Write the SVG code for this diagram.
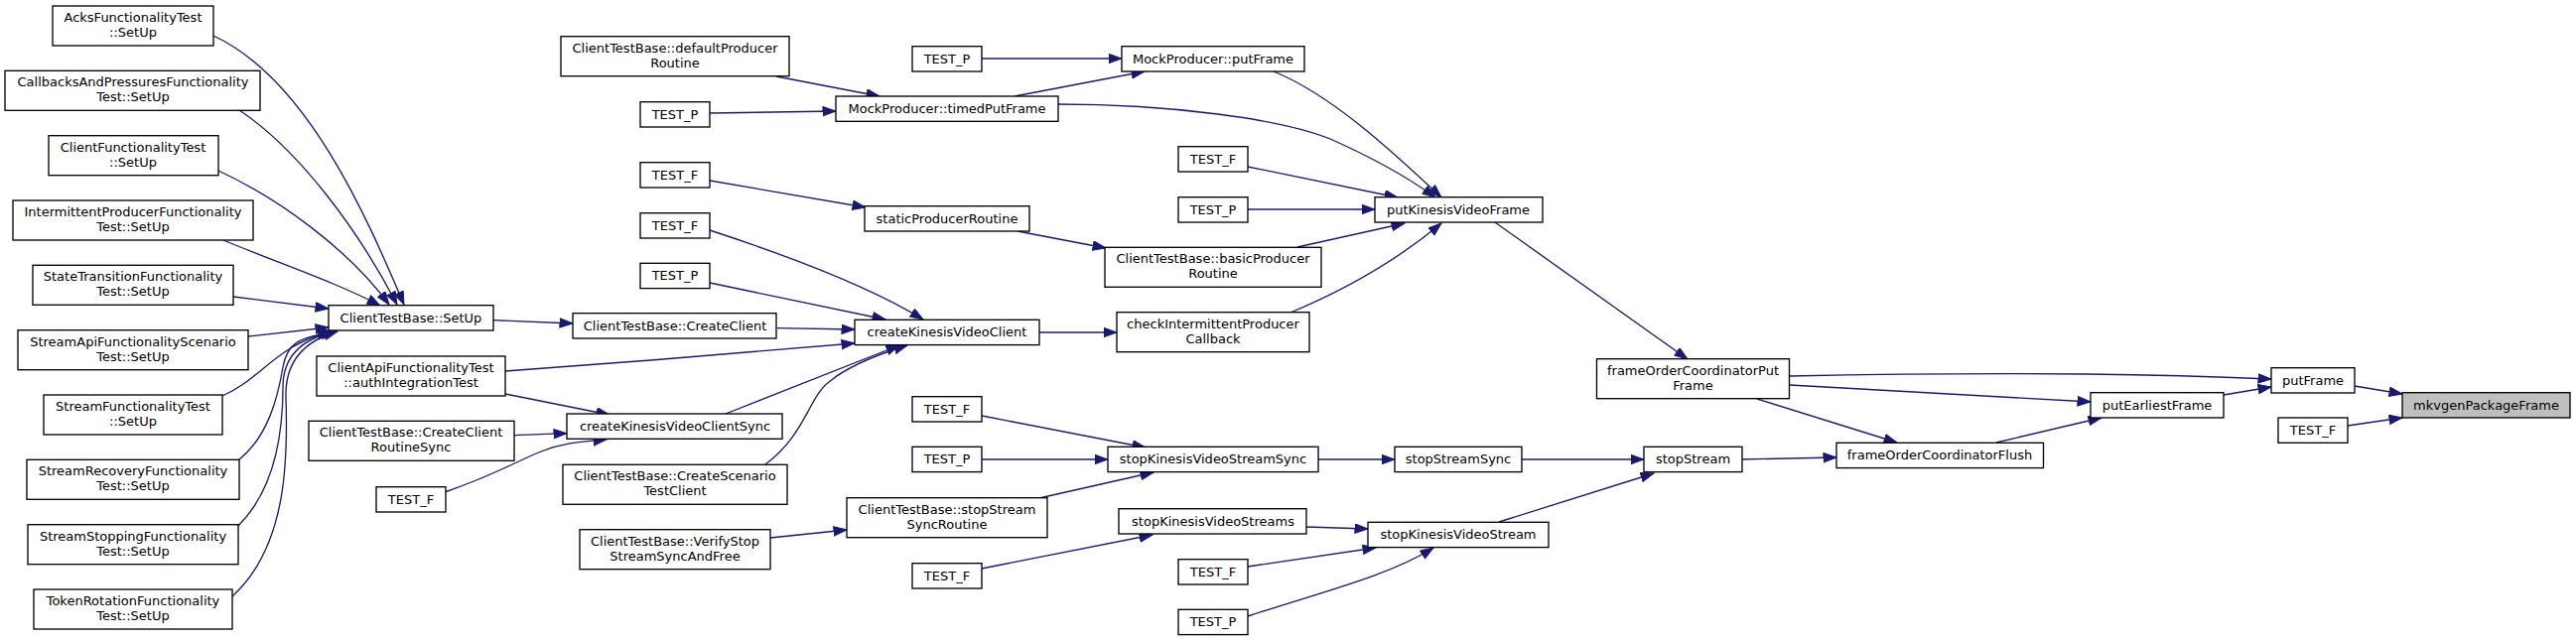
<svg xmlns="http://www.w3.org/2000/svg" width="2595" height="646" viewBox="0 0 2595 646">
<style>
.node rect{fill:#ffffff;stroke:#000000;stroke-width:1.33}
.node.hl rect{fill:#bfbfbf}
.node text{font-family:"DejaVu Sans",sans-serif;font-size:13px;text-anchor:middle;fill:#000000}
.edges path{fill:none;stroke:#191970;stroke-width:1.33;marker-end:url(#ah)}
</style>
<defs>
<marker id="ah" markerUnits="userSpaceOnUse" markerWidth="15" markerHeight="11" viewBox="0 0 15 11" refX="13.5" refY="5" orient="auto">
<path d="M0.5,0.3 L13.5,5 L0.5,9.7 Z" fill="#191970" stroke="#191970" stroke-width="1"/>
</marker>
</defs>
<rect width="2595" height="646" fill="#ffffff"/>
<g class="edges">
<path d="M215,36 C310,80 370,220 407,307"/>
<path d="M241,111 C300,150 360,230 400,307"/>
<path d="M220,172 C280,200 350,250 392,307"/>
<path d="M225,242 C280,265 340,285 383,308"/>
<path d="M235,299 L331,311"/>
<path d="M250,339 L331,330"/>
<path d="M224,399 C262,383 278,348 333,334"/>
<path d="M241,463 C270,440 280,400 285,370 S310,340 336,334"/>
<path d="M240,530 C280,490 285,430 285,390 C285,355 310,340 338,334"/>
<path d="M234,601 C290,550 290,460 288,400 C287,360 312,342 340,334"/>
<path d="M497,322.7 L577,326"/>
<path d="M783,330.7 L861,332"/>
<path d="M509,374 C620,366 760,355 861,346"/>
<path d="M509,397 L614,418"/>
<path d="M518,438.7 L571,436.7"/>
<path d="M448,496 C500,478 520,465 545,455 S590,445 611,443"/>
<path d="M731,417 L906,348"/>
<path d="M771,468 C810,440 815,400 835,385 C855,368 885,357 914,348"/>
<path d="M715,232 C770,250 870,285 930,322"/>
<path d="M715,285 L892,322"/>
<path d="M715,182 L872,209"/>
<path d="M782,77 L886,97"/>
<path d="M715,114 L842,112"/>
<path d="M989,59 L1130,59"/>
<path d="M1022,97 L1153,72"/>
<path d="M1065,105 C1180,105 1290,120 1340,140 C1385,160 1420,180 1446,199"/>
<path d="M1283,72 C1340,95 1400,150 1452,199"/>
<path d="M1257,168 L1408,199"/>
<path d="M1257,211 L1385,211"/>
<path d="M1025,233 L1114,250"/>
<path d="M1307,249 L1415,225"/>
<path d="M1300,315 C1360,290 1410,260 1452,225"/>
<path d="M1047,335 L1125,335"/>
<path d="M1506,224 L1700,362"/>
<path d="M989,419 L1154,451"/>
<path d="M989,463 L1116,463"/>
<path d="M1047,502 L1162,476"/>
<path d="M776,542 L853,534"/>
<path d="M1328,463 L1405,463"/>
<path d="M1533,463 L1656,463"/>
<path d="M989,573 L1161,539"/>
<path d="M1316,531 L1378,533"/>
<path d="M1257,571 L1386,552"/>
<path d="M1257,621 C1330,597 1400,580 1444,552"/>
<path d="M1510,526 L1666,477"/>
<path d="M1754,463 L1850,461"/>
<path d="M1803,379 C1900,377 2000,376 2100,377 C2180,378 2240,380 2288,382"/>
<path d="M1803,388 L2106,405"/>
<path d="M1770,402 L1911,446"/>
<path d="M2011,446 L2117,421"/>
<path d="M2240,398 L2288,390"/>
<path d="M2372,389 L2420,397"/>
<path d="M2365,429 L2420,421"/>
</g>
<g id="n_acks" class="node"><rect x="53" y="6" width="162" height="40"/><text x="134" y="22">AcksFunctionalityTest</text><text x="134" y="37">::SetUp</text></g>
<g id="n_callbacks" class="node"><rect x="5" y="71.3" width="257" height="40"/><text x="134" y="87.3">CallbacksAndPressuresFunctionality</text><text x="134" y="102.3">Test::SetUp</text></g>
<g id="n_clientfunc" class="node"><rect x="49" y="136.7" width="171" height="40"/><text x="134" y="152.7">ClientFunctionalityTest</text><text x="134" y="167.7">::SetUp</text></g>
<g id="n_intermittent" class="node"><rect x="13" y="202" width="242" height="40"/><text x="134" y="218">IntermittentProducerFunctionality</text><text x="134" y="233">Test::SetUp</text></g>
<g id="n_statetrans" class="node"><rect x="33" y="267.3" width="202" height="40"/><text x="134" y="283.3">StateTransitionFunctionality</text><text x="134" y="298.3">Test::SetUp</text></g>
<g id="n_streamapi" class="node"><rect x="18" y="332.7" width="232" height="40"/><text x="134" y="348.7">StreamApiFunctionalityScenario</text><text x="134" y="363.7">Test::SetUp</text></g>
<g id="n_streamfunc" class="node"><rect x="44" y="398" width="180" height="40"/><text x="134" y="414">StreamFunctionalityTest</text><text x="134" y="429">::SetUp</text></g>
<g id="n_streamrecov" class="node"><rect x="27" y="463.3" width="214" height="40"/><text x="134" y="479.3">StreamRecoveryFunctionality</text><text x="134" y="494.3">Test::SetUp</text></g>
<g id="n_streamstop" class="node"><rect x="28" y="528.7" width="212" height="40"/><text x="134" y="544.7">StreamStoppingFunctionality</text><text x="134" y="559.7">Test::SetUp</text></g>
<g id="n_tokenrot" class="node"><rect x="34" y="594" width="200" height="40"/><text x="134" y="610">TokenRotationFunctionality</text><text x="134" y="625">Test::SetUp</text></g>
<g id="n_setup" class="node"><rect x="331" y="307.7" width="166" height="25.3"/><text x="414" y="324.5">ClientTestBase::SetUp</text></g>
<g id="n_authtest" class="node"><rect x="319" y="359" width="190" height="40"/><text x="414" y="375">ClientApiFunctionalityTest</text><text x="414" y="390">::authIntegrationTest</text></g>
<g id="n_ccrs" class="node"><rect x="311" y="424.3" width="207" height="40"/><text x="414" y="440.3">ClientTestBase::CreateClient</text><text x="414" y="455.3">RoutineSync</text></g>
<g id="n_testf_a" class="node"><rect x="379" y="490.7" width="70" height="25.3"/><text x="414" y="507.5">TEST_F</text></g>
<g id="n_defaultprod" class="node"><rect x="565" y="36.7" width="230" height="40"/><text x="680" y="52.7">ClientTestBase::defaultProducer</text><text x="680" y="67.7">Routine</text></g>
<g id="n_testp_a" class="node"><rect x="645" y="102.7" width="70" height="25.3"/><text x="680" y="119.5">TEST_P</text></g>
<g id="n_testf_b" class="node"><rect x="645" y="163.7" width="70" height="25.3"/><text x="680" y="180.5">TEST_F</text></g>
<g id="n_testf_c" class="node"><rect x="645" y="214.7" width="70" height="25.3"/><text x="680" y="231.5">TEST_F</text></g>
<g id="n_testp_b" class="node"><rect x="645" y="265.3" width="70" height="25.3"/><text x="680" y="282">TEST_P</text></g>
<g id="n_createclient" class="node"><rect x="577" y="315.7" width="205" height="25.3"/><text x="680" y="332.5">ClientTestBase::CreateClient</text></g>
<g id="n_ckvcsync" class="node"><rect x="571" y="417" width="217" height="25.3"/><text x="680" y="433.8">createKinesisVideoClientSync</text></g>
<g id="n_createscenario" class="node"><rect x="567" y="468.3" width="226" height="40"/><text x="680" y="484.3">ClientTestBase::CreateScenario</text><text x="680" y="499.3">TestClient</text></g>
<g id="n_verifystop" class="node"><rect x="584" y="533.7" width="192" height="40"/><text x="680" y="549.7">ClientTestBase::VerifyStop</text><text x="680" y="564.7">StreamSyncAndFree</text></g>
<g id="n_ckvc" class="node"><rect x="861" y="322.3" width="186" height="25.3"/><text x="954" y="339">createKinesisVideoClient</text></g>
<g id="n_timedput" class="node"><rect x="842" y="97" width="224" height="25.3"/><text x="954" y="113.8">MockProducer::timedPutFrame</text></g>
<g id="n_testp_c" class="node"><rect x="919" y="46.7" width="70" height="25.3"/><text x="954" y="63.5">TEST_P</text></g>
<g id="n_staticprod" class="node"><rect x="871" y="207.7" width="166" height="25.3"/><text x="954" y="224.5">staticProducerRoutine</text></g>
<g id="n_stopsyncroutine" class="node"><rect x="853" y="501.7" width="202" height="40"/><text x="954" y="517.7">ClientTestBase::stopStream</text><text x="954" y="532.7">SyncRoutine</text></g>
<g id="n_testf_d" class="node"><rect x="919" y="399.7" width="70" height="25.3"/><text x="954" y="416.5">TEST_F</text></g>
<g id="n_testp_d" class="node"><rect x="919" y="450.3" width="70" height="25.3"/><text x="954" y="467">TEST_P</text></g>
<g id="n_testf_e" class="node"><rect x="919" y="567.7" width="70" height="25.3"/><text x="954" y="584.5">TEST_F</text></g>
<g id="n_mockput" class="node"><rect x="1130" y="46.7" width="184" height="25.3"/><text x="1222" y="63.5">MockProducer::putFrame</text></g>
<g id="n_testf_f" class="node"><rect x="1187" y="147.7" width="70" height="25.3"/><text x="1222" y="164.5">TEST_F</text></g>
<g id="n_testp_e" class="node"><rect x="1187" y="198.7" width="70" height="25.3"/><text x="1222" y="215.5">TEST_P</text></g>
<g id="n_basicprod" class="node"><rect x="1113" y="249.3" width="218" height="40"/><text x="1222" y="265.3">ClientTestBase::basicProducer</text><text x="1222" y="280.3">Routine</text></g>
<g id="n_checkinter" class="node"><rect x="1125" y="314.7" width="194" height="40"/><text x="1222" y="330.7">checkIntermittentProducer</text><text x="1222" y="345.7">Callback</text></g>
<g id="n_stopkvssync" class="node"><rect x="1116" y="450.3" width="212" height="25.3"/><text x="1222" y="467">stopKinesisVideoStreamSync</text></g>
<g id="n_stopkvss" class="node"><rect x="1127" y="512.7" width="189" height="25.3"/><text x="1222" y="529.5">stopKinesisVideoStreams</text></g>
<g id="n_testf_g" class="node"><rect x="1187" y="563.7" width="70" height="25.3"/><text x="1222" y="580.5">TEST_F</text></g>
<g id="n_testp_f" class="node"><rect x="1187" y="614.3" width="70" height="25.3"/><text x="1222" y="631">TEST_P</text></g>
<g id="n_putkvf" class="node"><rect x="1385" y="198.7" width="169" height="25.3"/><text x="1469" y="215.5">putKinesisVideoFrame</text></g>
<g id="n_stopstreamsync" class="node"><rect x="1405" y="450.3" width="128" height="25.3"/><text x="1469" y="467">stopStreamSync</text></g>
<g id="n_stopkvs" class="node"><rect x="1378" y="526.3" width="182" height="25.3"/><text x="1469" y="543">stopKinesisVideoStream</text></g>
<g id="n_fopf" class="node"><rect x="1608.5" y="361.7" width="194" height="40"/><text x="1705.5" y="377.7">frameOrderCoordinatorPut</text><text x="1705.5" y="392.7">Frame</text></g>
<g id="n_stopstream" class="node"><rect x="1656" y="450.3" width="99" height="25.3"/><text x="1705.5" y="467">stopStream</text></g>
<g id="n_fof" class="node"><rect x="1850" y="446.3" width="208.5" height="25.3"/><text x="1954" y="463">frameOrderCoordinatorFlush</text></g>
<g id="n_putearliest" class="node"><rect x="2106" y="395.7" width="134" height="25.3"/><text x="2173" y="412.5">putEarliestFrame</text></g>
<g id="n_putframe" class="node"><rect x="2288" y="370.7" width="84" height="25.3"/><text x="2330" y="387.5">putFrame</text></g>
<g id="n_testf_h" class="node"><rect x="2295" y="421" width="70" height="25.3"/><text x="2330" y="438">TEST_F</text></g>
<g id="n_mkvgen" class="node hl"><rect x="2420" y="395.7" width="169" height="25.3"/><text x="2504.5" y="412.5">mkvgenPackageFrame</text></g>
</svg>
